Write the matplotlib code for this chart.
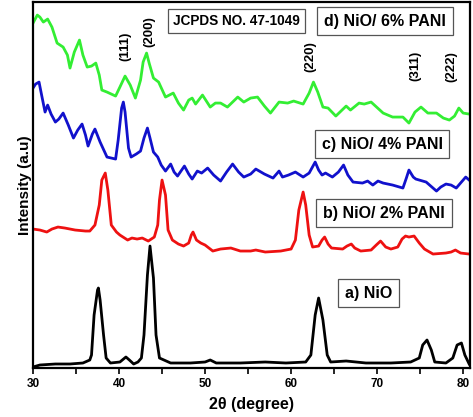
import matplotlib
matplotlib.use("Agg")
import matplotlib.pyplot as plt
from matplotlib.ticker import MultipleLocator

plt.rcParams["font.family"] = ["Liberation Sans", "DejaVu Sans"]
plt.rcParams["font.weight"] = "bold"

# === a) NiO ===
tt_a = [30.0, 30.8, 32.6, 34.3, 35.8, 36.6, 36.8, 37.1, 37.5, 37.6, 37.8, 38.2, 38.5,
        39.0, 40.1, 40.8, 41.2, 41.7, 42.2, 42.6, 42.9, 43.3, 43.6, 44.0, 44.3, 44.7,
        46.0, 48.3, 50.0, 50.6, 51.3, 54.1, 57.0, 59.4, 61.7, 62.3, 62.8, 63.2, 63.7,
        64.2, 64.6, 66.4, 68.7, 71.6, 73.9, 74.9, 75.3, 75.8, 76.3, 76.7, 78.0, 78.8,
        79.3, 79.8, 80.2, 80.7]
int_a = [1, 3, 4, 4, 5, 8, 13, 53, 78, 80, 68, 33, 10,
         5, 6, 11, 8, 4, 6, 10, 33, 93, 122, 90, 33, 10,
         5, 5, 6, 8, 5, 5, 6, 5, 6, 13, 53, 70, 48,
         13, 6, 7, 5, 5, 6, 10, 23, 28, 18, 6, 5, 10,
         23, 25, 13, 4]

# === b) NiO/ 2% PANI ===
tt_b = [30.0, 30.8, 31.6, 32.2, 32.9, 33.7, 34.9, 36.1, 36.6, 37.2, 37.7, 38.0, 38.4,
        38.7, 39.1, 39.7, 40.1, 41.0, 41.5, 42.1, 42.7, 43.4, 44.1, 44.5, 44.7, 45.0,
        45.4, 45.7, 46.2, 46.9, 47.5, 48.1, 48.4, 48.6, 49.0, 49.5, 50.0, 50.9, 51.8,
        53.0, 54.1, 55.3, 55.9, 57.0, 58.8, 60.0, 60.5, 60.9, 61.4, 61.7, 62.1, 62.5,
        63.2, 63.6, 63.9, 64.3, 64.7, 66.0, 66.5, 67.0, 67.4, 68.1, 69.3, 69.9, 70.4,
        71.0, 71.6, 72.4, 72.9, 73.3, 73.7, 74.3, 74.9, 75.5, 76.5, 78.0, 78.6, 79.1,
        79.7, 80.7]
int_b = [139, 138, 136, 139, 141, 140, 138, 137, 137, 143, 163, 188, 195,
         178, 143, 136, 133, 128, 130, 129, 130, 127, 131, 143, 168, 188,
         173, 138, 128, 124, 122, 125, 133, 136, 128, 125, 123, 117, 119,
         120, 117, 117, 118, 116, 117, 119, 128, 158, 176, 163, 133, 121,
         122, 128, 131, 124, 120, 119, 122, 124, 120, 117, 118, 123, 127,
         121, 119, 121, 129, 132, 131, 132, 125, 119, 114, 115, 116, 118,
         115, 114]

# === c) NiO/ 4% PANI ===
tt_c = [30.0, 30.3, 30.7, 31.0, 31.4, 31.7, 32.1, 32.6, 33.0, 33.5, 34.1, 34.7, 35.2,
        35.7, 36.1, 36.4, 36.9, 37.2, 37.8, 38.6, 39.6, 39.9, 40.3, 40.5, 40.7, 41.1,
        41.4, 42.0, 42.5, 42.9, 43.3, 43.6, 44.0, 44.5, 44.9, 45.4, 46.0, 46.4, 46.8,
        47.6, 48.1, 48.5, 49.1, 49.6, 50.3, 51.0, 51.8, 52.5, 53.2, 53.9, 54.5, 55.3,
        55.9, 56.9, 57.9, 58.6, 59.0, 59.7, 60.5, 61.4, 62.1, 62.8, 63.2, 63.6, 64.0,
        64.8, 65.5, 66.1, 66.6, 67.2, 68.3, 68.9, 69.5, 70.1, 70.7, 71.8, 73.0, 73.4,
        73.7, 74.2, 74.5, 75.7, 76.9, 77.4, 78.0, 78.6, 79.2, 79.8, 80.3, 80.7]
int_c = [280, 284, 286, 273, 256, 263, 254, 246, 249, 255, 243, 230, 238,
         244, 233, 222, 234, 239, 226, 211, 209, 228, 260, 266, 256, 220,
         211, 214, 217, 230, 240, 230, 216, 211, 203, 197, 204, 196, 192,
         202, 194, 189, 197, 195, 200, 193, 187, 196, 204, 196, 191, 194,
         199, 194, 190, 197, 191, 193, 196, 191, 195, 206, 198, 193, 195,
         191, 196, 203, 193, 186, 185, 187, 183, 187, 185, 183, 180, 190,
         198, 191, 189, 186, 177, 181, 184, 183, 180, 186, 191, 188]

# === d) NiO/ 6% PANI ===
tt_d = [30.0, 30.5, 30.8, 31.2, 31.7, 32.2, 32.8, 33.5, 34.0, 34.3, 34.8, 35.4, 35.8,
        36.3, 36.8, 37.3, 37.7, 38.0, 38.6, 39.6, 40.1, 40.7, 41.3, 41.9, 42.5, 42.8,
        43.2, 43.5, 44.0, 44.6, 45.4, 46.3, 46.9, 47.5, 48.1, 48.5, 48.9, 49.7, 50.6,
        51.2, 51.8, 52.6, 53.8, 54.5, 55.3, 56.1, 56.9, 57.6, 58.6, 59.6, 60.3, 61.4,
        62.1, 62.6, 63.1, 63.7, 64.3, 65.2, 66.4, 66.9, 67.9, 68.5, 69.3, 70.7, 71.8,
        73.0, 73.7, 74.4, 75.1, 75.9, 76.9, 77.7, 78.4, 79.0, 79.5, 80.0, 80.7]
int_d = [345, 353, 351, 346, 349, 341, 325, 321, 313, 300, 316, 328, 313,
         301, 302, 305, 293, 278, 276, 272, 281, 292, 283, 270, 288, 306,
         315, 305, 290, 286, 271, 275, 265, 258, 268, 270, 264, 273, 261,
         265, 265, 261, 271, 266, 270, 271, 262, 255, 266, 265, 267, 264,
         275, 286, 276, 261, 260, 252, 262, 258, 265, 264, 266, 255, 251,
         251, 245, 256, 261, 255, 255, 250, 248, 252, 260, 255, 254]

series = [
    (tt_a, int_a, "black"),
    (tt_b, int_b, "#ee1111"),
    (tt_c, int_c, "#1111cc"),
    (tt_d, int_d, "#33ee33"),
]

# sample labels (text, x, y)
sample_labels = [
    ("a) NiO", 69.0, 75),
    ("b) NiO/ 2% PANI", 70.8, 155),
    ("c) NiO/ 4% PANI", 70.6, 224),
    ("d) NiO/ 6% PANI", 70.9, 347),
]

# miller indices (text, x, y)
hkl_labels = [
    ("(111)", 40.7, 322),
    ("(200)", 43.5, 337),
    ("(220)", 62.3, 312),
    ("(311)", 74.5, 302),
    ("(222)", 78.6, 302),
]

fig = plt.figure(figsize=(4.73, 4.17), dpi=100)
ax = fig.add_axes([0.0698, 0.1175, 0.9239, 0.8775])

for x, y, c in series:
    ax.plot(x, y, color=c, linewidth=2.0, solid_joinstyle="round")

box = dict(boxstyle="square,pad=0.42", facecolor="white", edgecolor="#555555", linewidth=0.9)
for txt, x, y in sample_labels:
    ax.text(x, y, txt, ha="center", va="center", fontsize=11.5, fontweight="bold", bbox=box)

ax.text(53.66, 347, "JCPDS NO. 47-1049", ha="center", va="center", fontsize=9.8,
        fontweight="bold",
        bbox=dict(boxstyle="square,pad=0.35", facecolor="white", edgecolor="#555555", linewidth=0.9))

for txt, x, y in hkl_labels:
    ax.text(x, y, txt, ha="center", va="center", rotation=90, fontsize=9.5, fontweight="bold")

ax.set_xlim(30, 80.8)
ax.set_ylim(0, 366)
ax.xaxis.set_major_locator(MultipleLocator(10))
ax.xaxis.set_minor_locator(MultipleLocator(5))
ax.set_yticks([])
ax.tick_params(axis="x", which="major", direction="out", length=4, width=1.2, labelsize=8.5, pad=3)
ax.tick_params(axis="x", which="minor", direction="out", length=4, width=1.2)
for lab in ax.get_xticklabels():
    lab.set_fontweight("bold")
for s in ax.spines.values():
    s.set_linewidth(1.6)

ax.set_xlabel("2θ (degree)", fontsize=11.5, fontweight="bold", labelpad=5)
ax.set_ylabel("Intensity (a.u)", fontsize=11, fontweight="bold", labelpad=1)

fig.savefig("out.png", dpi=100)
